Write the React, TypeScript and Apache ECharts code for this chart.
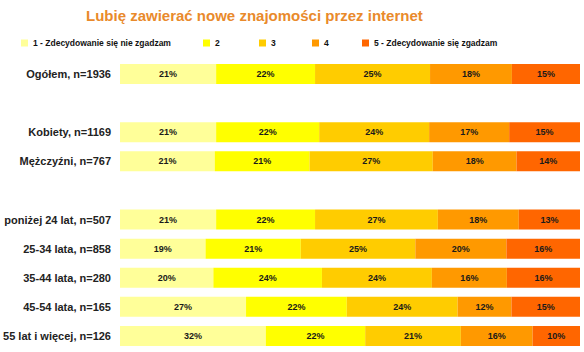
import React, { useEffect, useRef } from "react";
import * as echarts from "echarts";

const categories = [
  "Ogółem, n=1936",
  " ",
  "Kobiety, n=1169",
  "Mężczyźni, n=767",
  "  ",
  "poniżej 24 lat, n=507",
  "25-34 lata, n=858",
  "35-44 lata, n=280",
  "45-54 lata, n=165",
  "55 lat i więcej, n=126",
];

const seriesNames = [
  "1 - Zdecydowanie się nie zgadzam",
  "2",
  "3",
  "4",
  "5 - Zdecydowanie się zgadzam",
];

// shares (%) per category, '-' for the blank spacer rows
const s1 = [20.9, "-", 20.9, 20.6, "-", 20.9, 18.6, 20.3, 27.4, 31.7];
const s2 = [21.5, "-", 22.4, 20.6, "-", 21.5, 20.7, 23.6, 21.9, 21.6];
const s3 = [25.0, "-", 23.9, 26.8, "-", 26.7, 24.9, 23.9, 24.1, 20.8];
const s4 = [17.8, "-", 17.4, 18.2, "-", 17.6, 19.8, 16.3, 11.7, 15.6];
const s5 = [14.8, "-", 15.4, 13.8, "-", 13.3, 16.0, 15.9, 14.9, 10.3];
const seriesData = [s1, s2, s3, s4, s5];

const colors = ["#FFFF99", "#FFFF00", "#FFCC00", "#FF9900", "#FF6600"];
const legendLefts = [21, 203, 259, 312, 362];

export default function App() {
  const ref = useRef<HTMLDivElement>(null);
  useEffect(() => {
    if (!ref.current) return;
    const chart = echarts.init(ref.current, null, { renderer: "svg" });
    chart.setOption({
      animation: false,
      backgroundColor: "#ffffff",
      title: {
        text: "Lubię zawierać nowe znajomości przez internet",
        left: 86,
        top: 8,
        padding: 0,
        textStyle: {
          color: "#E98A2B",
          fontFamily: "Liberation Sans, Arial, sans-serif",
          fontWeight: "bold",
          fontSize: 15,
        },
      },
      legend: seriesNames.map((n, i) => ({
        data: [n],
        left: legendLefts[i],
        top: 38.5,
        padding: 0,
        itemWidth: 7,
        itemHeight: 7,
        icon: "rect",
        textStyle: {
          fontFamily: "Liberation Sans, Arial, sans-serif",
          fontWeight: "bold",
          fontSize: 8.5,
          color: "#111",
        },
      })),
      grid: { left: 120, right: 4, top: 59.5, bottom: 1.5, containLabel: false },
      xAxis: {
        type: "value",
        min: 0,
        max: 100,
        show: false,
      },
      yAxis: {
        type: "category",
        data: categories,
        inverse: true,
        axisLine: { show: false },
        axisTick: { show: false },
        splitLine: { show: false },
        axisLabel: {
          margin: 9,
          fontFamily: "Liberation Sans, Arial, sans-serif",
          fontWeight: "bold",
          fontSize: 11,
          color: "#222",
        },
      },
      series: seriesNames.map((n, i) => ({
        name: n,
        type: "bar",
        stack: "total",
        barWidth: 20,
        data: seriesData[i],
        itemStyle: { color: colors[i] },
        label: {
          show: true,
          position: "inside",
          formatter: (p: any) => Math.round(p.value) + "%",
          fontFamily: "Liberation Sans, Arial, sans-serif",
          fontWeight: "bold",
          fontSize: 9,
          color: "#1a1a1a",
        },
      })),
    });
    return () => chart.dispose();
  }, []);
  return <div ref={ref} style={{ width: 584, height: 352, position: "absolute", left: 0, top: 0 }} />;
}
